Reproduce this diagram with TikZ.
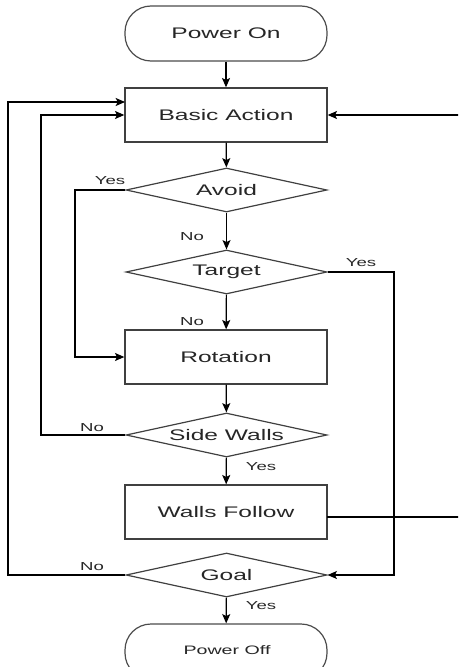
\documentclass[tikz,border=0pt]{standalone}
\usepackage{fontspec}
\usetikzlibrary{arrows.meta,shapes.geometric}
\newfontfamily\dfont{Liberation Sans}[FakeStretch=1.6]
\begin{document}
\begin{tikzpicture}[x=0.75pt,y=-0.75pt,
  every node/.style={font=\dfont\fontsize{11.5pt}{13pt}\selectfont, text=black!85},
  boxnode/.style={draw=black!75, line width=1pt, rectangle, minimum width=202*0.75pt, minimum height=54*0.75pt, inner sep=0pt},
  termnode/.style={draw=black!70, line width=0.9pt, rectangle, rounded corners=26*0.75pt, minimum width=202*0.75pt, minimum height=55*0.75pt, inner sep=0pt},
  decnode/.style={draw=black!75, line width=0.9pt, diamond, aspect=4.57, minimum width=201*0.75pt, minimum height=44*0.75pt, inner sep=0pt},
  lbl/.style={font=\dfont\fontsize{8.7pt}{10pt}\selectfont, text=black!85, inner sep=0pt},
  conn/.style={draw=black, line width=0.9pt},
  arr/.style={conn, -{Stealth[length=7pt,width=6pt,inset=1.5pt]}}
]
\useasboundingbox (0,0) rectangle (458,667);
\clip (0,0) rectangle (458,667);

\node[termnode] (pon) at (226,33.5) {Power On};
\node[boxnode] (ba) at (226,115) {Basic Action};
\node[decnode] (avoid) at (226.5,190) {Avoid};
\node[decnode] (target) at (226.5,272) {Target};
\node[boxnode] (rot) at (226,357) {Rotation};
\node[decnode] (sw) at (226.5,435) {Side Walls};
\node[boxnode] (wf) at (226,512) {Walls Follow};
\node[decnode] (goal) at (226.5,575) {Goal};
\node[termnode, font=\dfont\fontsize{9.2pt}{11pt}\selectfont] (poff) at (226,651.5) {};
\node[font=\dfont\fontsize{9.2pt}{11pt}\selectfont, inner sep=0pt] (pofft) at (227,650) {Power Off};

\coordinate (baL1) at (125,102);
\coordinate (wfR) at (327,517);
\coordinate (farR) at (475,517);

\draw[arr] (pon) -- (ba);
\draw[arr] (ba) -- (avoid);
\draw[arr] (avoid) -- (target);
\draw[arr] (target) -- (rot);
\draw[arr] (rot) -- (sw);
\draw[arr] (sw) -- (wf);
\draw[arr] (goal) -- (poff);

\draw[arr] (avoid.west) -- (75,190) |- (rot.west);
\draw[arr] (target.east) -- (394,272) |- (goal.east);
\draw[arr] (sw.west) -- (41,435) |- (ba.west);
\draw[arr] (goal.west) -- (8,575) |- (baL1);
\draw[arr] (wfR) -- (farR) |- (ba.east);

\node[lbl] (l1) at (110,181) {Yes};
\node[lbl] (l2) at (192,237) {No};
\node[lbl] (l3) at (361,263) {Yes};
\node[lbl] (l4) at (192,322) {No};
\node[lbl] (l5) at (92,428) {No};
\node[lbl] (l6) at (261,467) {Yes};
\node[lbl] (l7) at (92,567) {No};
\node[lbl] (l8) at (261,606) {Yes};
\end{tikzpicture}
\end{document}
